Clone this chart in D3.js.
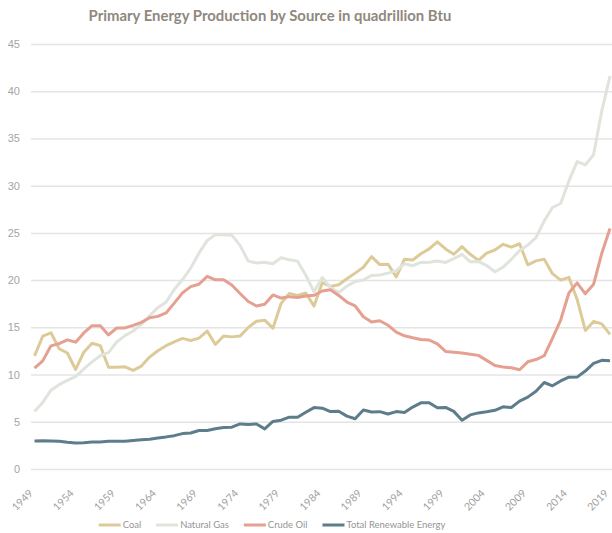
<!DOCTYPE html>
<html>
<head>
<meta charset="utf-8">
<script src="https://cdn.jsdelivr.net/npm/d3@7"></script>
<style>
  body { margin: 0; background: #fff; }
  svg { display: block; font-family: Lato, "Open Sans", sans-serif; }
  .grid line { stroke: #e4e4e4; stroke-width: 1.5px; }
  .grid .domain { display: none; }
  .grid text { fill: #a5a5a5; font-size: 11px; }
  .xlab { fill: #9f9f9f; font-size: 10.5px; }
  .legend text { fill: #959595; font-size: 11px; }
  .line { fill: none; stroke-width: 3px; stroke-linejoin: round; }
</style>
</head>
<body>
<div id="chart"></div>
<script>
var years = d3.range(1949, 2020);
var seriesNames = ["Coal", "Natural Gas", "Crude Oil", "Total Renewable Energy"];
var seriesColors = ["#dccb98", "#dfe4dc", "#e5a091", "#5e7d8a"];
var yTicks = [0, 5, 10, 15, 20, 25, 30, 35, 40, 45];
var xTickYears = [1949, 1954, 1959, 1964, 1969, 1974, 1979, 1984, 1989, 1994, 1999, 2004, 2009, 2014, 2019];

var coal = [11.97, 14.06, 14.42, 12.73, 12.28, 10.54, 12.37, 13.31, 13.06, 10.78,
  10.78, 10.82, 10.45, 10.90, 11.85, 12.52, 13.06, 13.47, 13.83, 13.61,
  13.86, 14.61, 13.19, 14.09, 13.99, 14.07, 14.99, 15.65, 15.76, 14.91,
  17.54, 18.60, 18.38, 18.64, 17.25, 19.72, 19.33, 19.51, 20.14, 20.74,
  21.36, 22.49, 21.64, 21.69, 20.34, 22.20, 22.13, 22.79, 23.31, 24.05,
  23.30, 22.74, 23.55, 22.73, 22.09, 22.85, 23.19, 23.79, 23.49, 23.85,
  21.62, 22.04, 22.22, 20.68, 20.00, 20.29, 17.95, 14.67, 15.63, 15.36,
  14.26];
var naturalGas = [6.09, 7.05, 8.35, 8.93, 9.38, 9.78, 10.59, 11.34, 11.99, 12.32,
  13.45, 14.12, 14.61, 15.31, 16.23, 17.09, 17.66, 19.00, 20.06, 21.27,
  22.85, 24.18, 24.82, 24.81, 24.76, 23.68, 22.01, 21.81, 21.90, 21.74,
  22.37, 22.16, 22.01, 20.51, 18.77, 20.28, 19.22, 18.69, 19.36, 19.86,
  20.01, 20.50, 20.54, 20.74, 20.99, 21.74, 21.52, 21.87, 21.89, 22.03,
  21.87, 22.27, 22.72, 21.94, 21.98, 21.54, 20.89, 21.38, 22.20, 23.12,
  23.71, 24.50, 26.27, 27.69, 28.11, 30.50, 32.55, 32.20, 33.28, 37.90,
  41.60];
var crudeOil = [10.68, 11.45, 13.04, 13.28, 13.67, 13.43, 14.41, 15.18, 15.18, 14.20,
  14.93, 14.94, 15.21, 15.52, 16.02, 16.16, 16.52, 17.56, 18.65, 19.31,
  19.56, 20.40, 20.03, 20.04, 19.49, 18.58, 17.73, 17.26, 17.45, 18.43,
  18.10, 18.25, 18.15, 18.31, 18.39, 18.85, 18.99, 18.38, 17.68, 17.28,
  16.12, 15.57, 15.70, 15.22, 14.49, 14.10, 13.89, 13.72, 13.66, 13.24,
  12.45, 12.36, 12.28, 12.16, 12.03, 11.50, 10.96, 10.80, 10.72, 10.51,
  11.35, 11.59, 11.99, 13.83, 15.77, 18.63, 19.71, 18.55, 19.56, 22.84,
  25.47];
var renewables = [2.97, 2.98, 2.96, 2.94, 2.83, 2.75, 2.78, 2.85, 2.87, 2.94,
  2.94, 2.93, 3.01, 3.10, 3.16, 3.29, 3.40, 3.53, 3.75, 3.81,
  4.08, 4.08, 4.27, 4.40, 4.43, 4.77, 4.72, 4.77, 4.25, 5.04,
  5.17, 5.49, 5.48, 6.00, 6.50, 6.44, 6.08, 6.11, 5.60, 5.32,
  6.24, 6.04, 6.07, 5.82, 6.08, 5.99, 6.56, 7.01, 7.02, 6.49,
  6.52, 6.10, 5.16, 5.73, 5.94, 6.07, 6.22, 6.59, 6.51, 7.19,
  7.61, 8.23, 9.16, 8.81, 9.32, 9.72, 9.73, 10.37, 11.18, 11.51,
  11.47];

var width = 612, height = 533;
var svg = d3.select("#chart").append("svg")
    .attr("width", width)
    .attr("height", height);

var xScale = d3.scaleLinear().domain([1949, 2019]).range([34.5, 610]);
var yScale = d3.scaleLinear().domain([0, 45]).range([469, 44]);

// title, sized to the width it has in the original
var title = svg.append("text")
    .attr("x", 270)
    .attr("y", 21)
    .attr("text-anchor", "middle")
    .style("font-weight", "bold")
    .style("font-size", "16px")
    .style("fill", "#8f887d")
    .text("Primary Energy Production by Source in quadrillion Btu");
var tw = title.node().getComputedTextLength();
title.style("font-size", (16 * 363 / tw) + "px");

// y grid + labels
svg.append("g")
    .attr("class", "grid")
    .attr("transform", "translate(31,0)")
    .call(d3.axisLeft(yScale).tickValues(yTicks).tickSize(-(width - 31)).tickPadding(11));

// x labels, slanted
svg.append("g").selectAll("text")
    .data(xTickYears)
    .enter().append("text")
    .attr("class", "xlab")
    .attr("text-anchor", "end")
    .attr("transform", function(d) { return "translate(" + (xScale(d) - 1) + ",494) rotate(-45)"; })
    .text(function(d) { return d; });

var allSeries = [coal, naturalGas, crudeOil, renewables];
var line = d3.line()
    .x(function(d, i) { return xScale(years[i]); })
    .y(function(d) { return yScale(d); });

svg.append("g").selectAll("path")
    .data(allSeries)
    .enter().append("path")
    .attr("class", "line")
    .attr("d", function(d) { return line(d); })
    .style("stroke", function(d, i) { return seriesColors[i]; });

// legend
var legend = svg.append("g").attr("class", "legend");
var items = legend.selectAll("g")
    .data(seriesNames)
    .enter().append("g");
items.append("line")
    .attr("x1", 0).attr("x2", 22)
    .attr("y1", 0).attr("y2", 0)
    .style("stroke", function(d, i) { return seriesColors[i]; })
    .style("stroke-width", "3px");
var labels = items.append("text")
    .attr("x", 24)
    .attr("dy", "0.35em")
    .text(function(d) { return d; });
// shrink the legend font so the longest label is as wide as in the original
var lw = labels.nodes()[3].getComputedTextLength();
labels.style("font-size", (11 * 99 / lw) + "px");
var pos = 0, starts = [];
items.each(function() {
    starts.push(pos);
    pos += 24 + d3.select(this).select("text").node().getComputedTextLength() + 15;
});
var total = pos - 15;
var left = 272 - total / 2;
items.attr("transform", function(d, i) { return "translate(" + (left + starts[i]) + ",525)"; });
</script>
</body>
</html>
